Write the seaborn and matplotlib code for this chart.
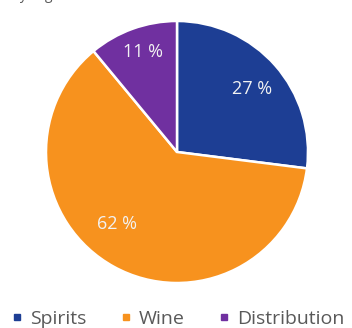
import matplotlib
matplotlib.use("Agg")
import matplotlib.pyplot as plt
import seaborn as sns
from matplotlib.lines import Line2D

categories = ["Spirits", "Wine", "Distribution"]
values = [27, 62, 11]
labels = ["27 %", "62 %", "11 %"]
colors = ["#1D3E94", "#F7921E", "#7030A0"]
label_pos = [(0.57, 0.48), (-0.46, -0.55), (-0.26, 0.76)]

sns.set_theme(style="white")
plt.rcParams['font.family'] = ['Open Sans', 'DejaVu Sans']
palette = sns.color_palette(colors)

fig = plt.figure(figsize=(3.52, 3.28), dpi=100)
fig.patch.set_facecolor("white")
ax = fig.add_axes([0.1307, 0.1372, 0.7443, 0.7988])

wedges, texts, autotexts = ax.pie(
    values, colors=palette, startangle=90, counterclock=False,
    autopct=lambda p: "", pctdistance=0.75,
    wedgeprops=dict(edgecolor="white", linewidth=1.8))
for t, lab, pos in zip(autotexts, labels, label_pos):
    t.set_text(lab)
    t.set_color("#F2F2F2")
    t.set_fontsize(13)
    t.set_position(pos)
ax.set_xlim(-1, 1)
ax.set_ylim(-1, 1)
ax.set_aspect("equal")
ax.axis("off")

# title cropped at the very top edge (only descenders visible)
fig.text(0.03, 1.004, "By segment", fontsize=10, color="#595959", va="baseline", ha="left")

handles = [Line2D([0], [0], marker="s", linestyle="", markersize=5,
                  markerfacecolor=c, markeredgecolor=c) for c in palette]
fig.legend(handles, categories, loc="center", bbox_to_anchor=(0.505, 0.027),
           ncol=3, frameon=False, fontsize=14, labelcolor="#595959",
           handletextpad=0.35, columnspacing=1.75, handlelength=0.6,
           borderaxespad=0, borderpad=0)

fig.savefig("out.png", dpi=100)
